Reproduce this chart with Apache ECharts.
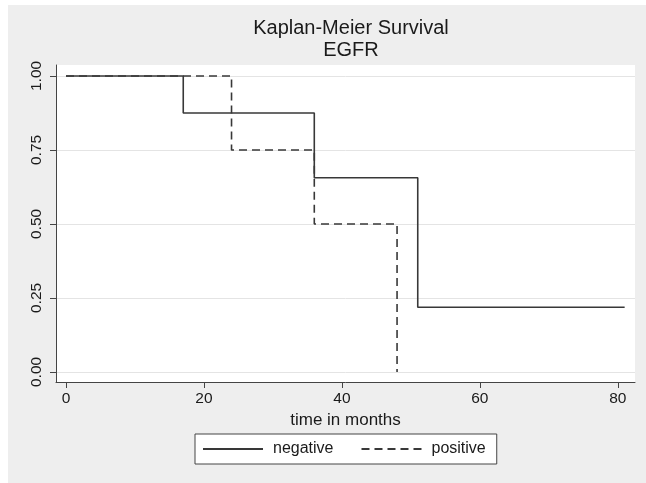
<!DOCTYPE html>
<html>
<head>
<meta charset="utf-8">
<script src="https://cdn.jsdelivr.net/npm/echarts@6/dist/echarts.min.js"></script>
<style>
html,body{margin:0;padding:0;background:#ffffff;}
#chart{position:absolute;left:8px;top:5px;width:638px;height:478px;}
</style>
</head>
<body>
<div id="chart"></div>
<script>
// Kaplan-Meier step data
const negTime = [0, 17, 36, 51, 81];
const negSurv = [1.0, 0.875, 0.65625, 0.21875, 0.21875];
const posTime = [0, 24, 36, 48];
const posSurv = [1.0, 0.75, 0.5, 0.0];
const xTicks = [0, 20, 40, 60, 80];
const yTicks = [0, 0.25, 0.5, 0.75, 1.0];
const seriesNames = ['negative', 'positive'];
const titleLines = ['Kaplan-Meier Survival', 'EGFR'];
const xTitle = 'time in months';

const pairs = (t, s) => t.map((v, i) => [v, s[i]]);
const FONT = '"Liberation Sans", Arial, sans-serif';
const chart = echarts.init(document.getElementById('chart'), null, {renderer: 'canvas'});
chart.setOption({
  animation: false,
  backgroundColor: '#eeeeee',
  textStyle: {fontFamily: FONT},
  graphic: [{
    type: 'text',
    x: 343, y: 12,
    style: {
      text: titleLines.join('\n'),
      fontFamily: FONT, fontSize: 20, lineHeight: 22,
      fill: '#1a1a1a', align: 'center', verticalAlign: 'top'
    }
  }],
  grid: {
    left: 48, top: 60, right: 11, bottom: 101,
    show: true, backgroundColor: '#ffffff', borderWidth: 0
  },
  xAxis: {
    type: 'value', min: -1.45, max: 82.5,
    name: xTitle, nameLocation: 'middle', nameGap: 26,
    nameTextStyle: {fontSize: 17, color: '#1a1a1a', fontFamily: FONT},
    axisLine: {show: true, onZero: false, lineStyle: {color: '#444', width: 1}},
    axisTick: {show: true, length: 6, customValues: xTicks, lineStyle: {color: '#444'}},
    axisLabel: {customValues: xTicks, fontSize: 15.5, color: '#1a1a1a', margin: 9, fontFamily: FONT},
    splitLine: {show: false}
  },
  yAxis: {
    type: 'value', min: -0.034, max: 1.037,
    axisLine: {show: true, onZero: false, lineStyle: {color: '#444', width: 1}},
    axisTick: {show: true, length: 6, customValues: yTicks, lineStyle: {color: '#444'}},
    axisLabel: {customValues: yTicks, rotate: 90, fontSize: 15.5, color: '#1a1a1a', margin: 11,
      fontFamily: FONT, formatter: v => v.toFixed(2)},
    splitLine: {show: true, lineStyle: {color: '#e4e4e4', width: 1}}
  },
  legend: {
    left: 187, top: 429,
    orient: 'horizontal',
    backgroundColor: '#ffffff', borderColor: '#444', borderWidth: 1, borderRadius: 0,
    padding: [7, 11, 7, 7],
    itemWidth: 60, itemHeight: 14, itemGap: 27,
    itemStyle: {color: 'transparent', borderWidth: 0, opacity: 0},
    textStyle: {fontSize: 16, color: '#1a1a1a', fontFamily: FONT, padding: [0, 0, 0, 5]},
    data: seriesNames
  },
  series: [
    {
      name: seriesNames[0], type: 'line', step: 'end', symbol: 'none',
      data: pairs(negTime, negSurv),
      lineStyle: {color: '#383838', width: 1.6, type: 'solid'},
      itemStyle: {color: '#383838'}
    },
    {
      name: seriesNames[1], type: 'line', step: 'end', symbol: 'none',
      data: pairs(posTime, posSurv),
      lineStyle: {color: '#383838', width: 1.6, type: [8, 5]},
      itemStyle: {color: '#383838'}
    }
  ]
});
</script>
</body>
</html>
